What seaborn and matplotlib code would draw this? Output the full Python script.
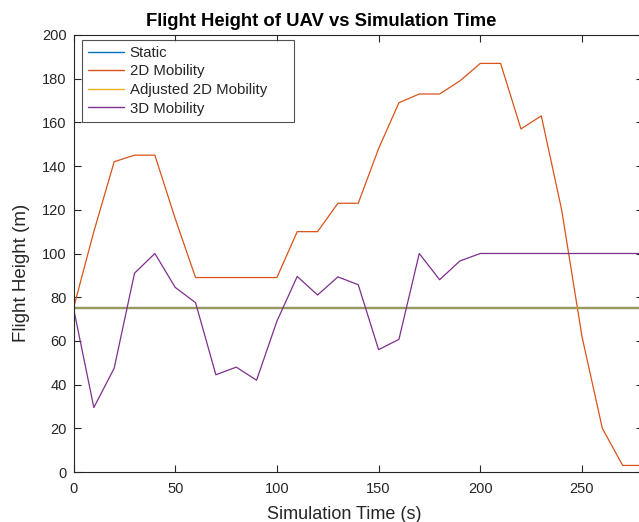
import numpy as np
import pandas as pd
import matplotlib
matplotlib.use('Agg')
import matplotlib.pyplot as plt
import seaborn as sns

# 数据
time_s = list(range(0, 290, 10))
static_h = [75] * len(time_s)
adjusted_2d_h = [75] * len(time_s)
mobility_2d_h = [75, 110, 142, 145, 145, 116, 89, 89, 89, 89, 89, 110, 110, 123, 123,
                 148, 169, 173, 173, 179, 187, 187, 157, 163, 120, 62, 20, 3, 3]
mobility_3d_h = [75, 29.5, 47.5, 91, 100, 84.5, 77.5, 44.5, 48, 42, 69, 89.5, 81, 89.3, 85.7,
                 56, 60.7, 100, 88, 96.6, 100, 100, 100, 100, 100, 100, 100, 100, 100]

series_names = ['Static', '2D Mobility', 'Adjusted 2D Mobility', '3D Mobility']
series_colors = ['#0072BD', '#D95319', '#EDB120', '#7E2F8E']

df = pd.DataFrame({'time': time_s,
                   'Static': static_h,
                   '2D Mobility': mobility_2d_h,
                   'Adjusted 2D Mobility': adjusted_2d_h,
                   '3D Mobility': mobility_3d_h})
df_long = df.melt(id_vars='time', var_name='series', value_name='height')

sns.set_style('ticks')
plt.rcParams['font.family'] = ['Liberation Sans', 'DejaVu Sans']

W, H = 639, 522
fig = plt.figure(figsize=(W / 100, H / 100), dpi=100)
# 右侧坐标轴略超出画布（原图被裁切）
ax = fig.add_axes([73.5 / W, 50 / H, 569.5 / W, 437 / H])

for name, col in zip(series_names, series_colors):
    sub = df_long[df_long['series'] == name]
    alpha = 0.65 if name == 'Adjusted 2D Mobility' else 1.0
    lw = 1.6 if name in ('Static', 'Adjusted 2D Mobility') else 0.9
    sns.lineplot(data=sub, x='time', y='height', color=col, linewidth=lw,
                 alpha=alpha, label=name, ax=ax)

ax.set_xlim(0, 280)
ax.set_ylim(0, 200)
ax.set_xticks([0, 50, 100, 150, 200, 250])
ax.set_yticks(range(0, 201, 20))
ax.tick_params(direction='in', top=True, right=True, length=5, width=0.8,
               labelsize=10.5, colors='#262626')
ax.tick_params(axis='x', pad=7)
ax.tick_params(axis='y', pad=5)
for sp in ax.spines.values():
    sp.set_color('#262626')
    sp.set_linewidth(0.8)

ax.set_xlabel('Simulation Time (s)', fontsize=13, color='#262626', va='baseline')
ax.xaxis.set_label_coords((344.5 - 73.5) / 569.5, (472 - 519) / 437)
ax.set_ylabel('Flight Height (m)', fontsize=13.5, color='#262626', va='center')
ax.yaxis.set_label_coords((22 - 73.5) / 569.5, (472 - 273) / 437)
fig.text(321 / W, 1 - 26 / H, 'Flight Height of UAV vs Simulation Time',
         fontsize=13.3, fontweight='bold', color='black', ha='center', va='baseline')

leg = ax.legend(loc='upper left', mode='expand',
                bbox_to_anchor=((81.7 - 73.5) / 569.5, 0, (294 - 81.7) / 569.5, (472 - 40) / 437),
                borderaxespad=0, fontsize=10.8, frameon=True, fancybox=False,
                edgecolor='#262626', handlelength=2.45, borderpad=0.4,
                labelspacing=0.3, handletextpad=0.35)
leg.get_frame().set_linewidth(0.8)
for h in leg.get_lines():
    h.set_linewidth(1.0)
    h.set_alpha(1.0)

fig.savefig('out.png', dpi=100)
